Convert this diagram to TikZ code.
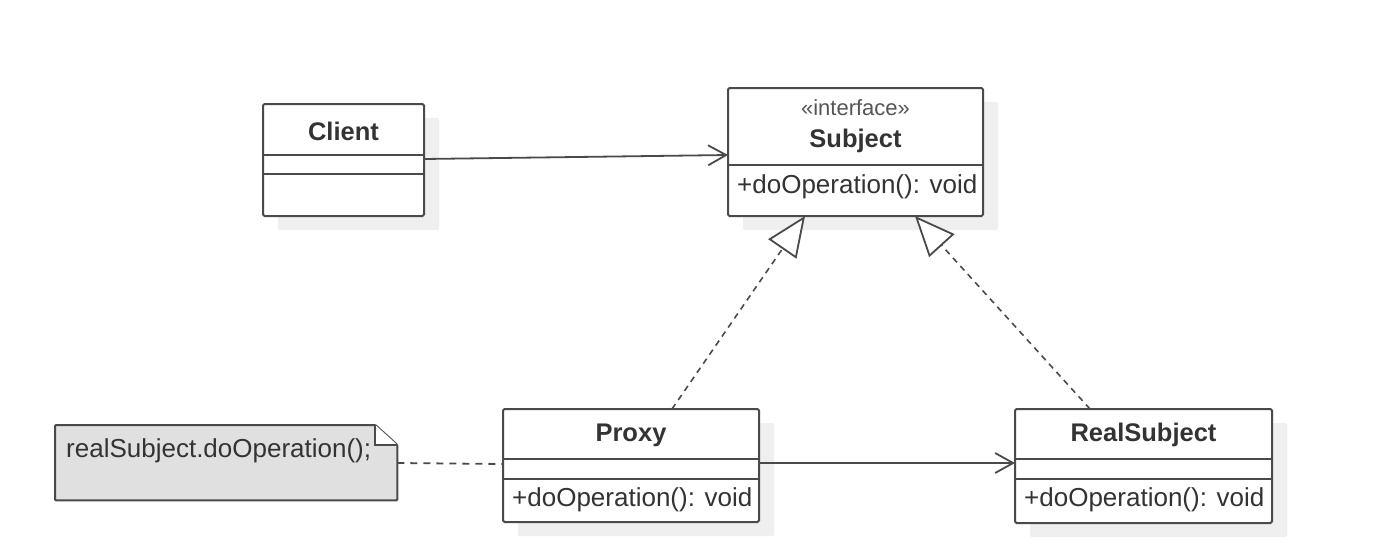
\documentclass[tikz,border=0pt]{standalone}
\usepackage{fontspec}
\setmainfont{Liberation Sans}
\usetikzlibrary{arrows.meta,calc,shadows}
\definecolor{ln}{HTML}{4A4A4A}
\definecolor{tx}{HTML}{333333}
\definecolor{tx2}{HTML}{555555}
\definecolor{shd}{HTML}{EFEFEF}
\definecolor{notefill}{HTML}{E0E0E0}
\begin{document}
\begin{tikzpicture}[x=1pt,y=-1pt,
  box/.style={draw=ln, line width=2pt, fill=white, rounded corners=1.5pt, anchor=north west, inner sep=0pt, outer sep=0pt,
    drop shadow={shadow xshift=15pt, shadow yshift=-14pt, fill=shd, opacity=1}},
  sep/.style={draw=ln, line width=2pt},
  lbl/.style={text=tx, font=\fontsize{26}{30}\selectfont, inner sep=0pt},
  blbl/.style={text=tx, font=\bfseries\fontsize{25.5}{30}\selectfont, inner sep=0pt},
  slbl/.style={text=tx2, font=\fontsize{22}{26}\selectfont, inner sep=0pt},
  assoc/.style={draw=ln, line width=1.8pt, -{Straight Barb[length=18pt,width=20pt,line width=1.8pt]}},
  real/.style={draw=ln, line width=1.6pt, dash pattern=on 6pt off 5pt, -{Triangle[length=40pt,width=34pt,fill=white,line width=1.8pt]}},
  notelink/.style={draw=ln, line width=1.8pt, dash pattern=on 7pt off 6pt}
]
\useasboundingbox (0,0) rectangle (1398,558);
\fill[white] (0,0) rectangle (1398,558);

% Client
\node[box, minimum width=161pt, minimum height=112pt] (client) at (263,104) {};
\draw[sep] (263,155) -- (424,155);
\draw[sep] (263,174) -- (424,174);
\node[blbl] (clientname) at (343.5,131) {Client};

% Subject
\node[box, minimum width=255pt, minimum height=128pt] (subject) at (728,88) {};
\draw[sep] (728,165) -- (983,165);
\node[slbl] (subjst) at (855.5,108) {«interface»};
\node[blbl] (subjname) at (855.5,141) {Subject};
\node[lbl, anchor=west] (subjop) at (737,187) {+doOperation(): void};

% Proxy
\node[box, minimum width=256pt, minimum height=113pt] (proxy) at (503,409) {};
\draw[sep] (503,459) -- (759,459);
\draw[sep] (503,479) -- (759,479);
\node[blbl] (proxyname) at (631,435) {Proxy};
\node[lbl, anchor=west] (proxyop) at (512,500) {+doOperation(): void};

% RealSubject
\node[box, minimum width=257pt, minimum height=114pt] (realsub) at (1015,409) {};
\draw[sep] (1015,459) -- (1272,459);
\draw[sep] (1015,479) -- (1272,479);
\node[blbl] (realname) at (1143.5,435) {RealSubject};
\node[lbl, anchor=west] (realop) at (1024,500) {+doOperation(): void};

% Note
\node[anchor=north west, minimum width=342pt, minimum height=75pt, inner sep=0pt] (note) at (55,425) {};
\draw[ln, line width=2pt, fill=notefill, rounded corners=1pt]
  (note.north west) -- ([xshift=-22pt]note.north east) -- ([yshift=-20pt]note.north east)
  -- (note.south east) -- (note.south west) -- cycle;
\draw[ln, line width=2pt, fill=white]
  ([xshift=-22pt]note.north east) -- ([xshift=-22pt,yshift=-20pt]note.north east) -- ([yshift=-20pt]note.north east);
\node[lbl, anchor=west] (notetext) at (66,451) {realSubject.doOperation();};

% Connectors
\draw[assoc] ([yshift=-55pt]client.north east) -- ([yshift=-67pt]subject.north west);
\draw[assoc] ([yshift=-54pt]proxy.north east) -- ([yshift=-54pt]realsub.north west);
\draw[notelink] ([yshift=-38pt]note.north east) -- ([yshift=-55pt]proxy.north west);
\draw[real] ([xshift=41pt]proxy.north) -- ([xshift=-50.5pt]subject.south);
\draw[real] ([xshift=-53.5pt]realsub.north) -- ([xshift=59.5pt]subject.south);
\end{tikzpicture}
\end{document}
